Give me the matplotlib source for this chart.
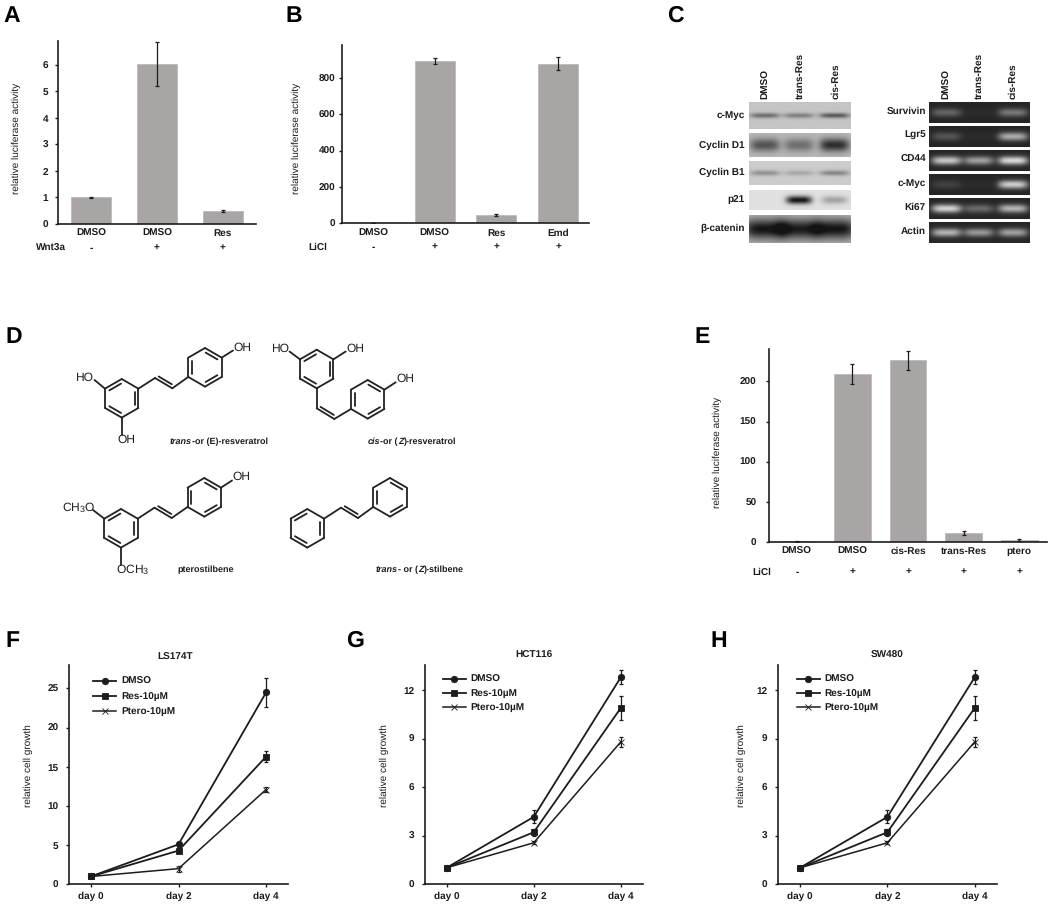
import numpy as np
import matplotlib
matplotlib.use('Agg')
import matplotlib.pyplot as plt
from matplotlib.transforms import blended_transform_factory

plt.rcParams['font.family'] = ['Liberation Sans', 'DejaVu Sans']
plt.rcParams['font.weight'] = 'bold'
plt.rcParams['text.hinting'] = 'no_hinting'
plt.rcParams['text.hinting_factor'] = 1
plt.rcParams['mathtext.default'] = 'regular'
plt.rcParams['mathtext.fontset'] = 'custom'
plt.rcParams['mathtext.rm'] = 'Liberation Sans'

INK = '#1c1c1c'
BAR = '#a9a5a5'
FS = 7.2
CAPTION_FS = 6.3

# panel A
a_labels = ['DMSO', 'DMSO', 'Res']
a_values = [1.0, 6.02, 0.48]
a_errors = [0.03, 0.83, 0.03]
a_signs = ['-', '+', '+']
# panel B
b_labels = ['DMSO', 'DMSO', 'Res', 'Emd']
b_values = [3, 895, 47, 879]
b_errors = [1, 18, 5, 36]
b_signs = ['-', '+', '+', '+']
# panel E
e_labels = ['DMSO', 'DMSO', 'cis-Res', 'trans-Res', 'ptero']
e_values = [1, 209.5, 226.5, 11.6, 2.5]
e_errors = [0.5, 12.3, 12, 2.7, 1.5]
e_signs = ['-', '+', '+', '+', '+']

# panels F, G, H
days = ['day 0', 'day 2', 'day 4']
series_names = ['DMSO', 'Res-10\u00b5M', 'Ptero-10\u00b5M']
f_dmso = [1, 5.1, 24.5]
f_dmso_err = [0.1, 0.3, 1.8]
f_res = [1, 4.3, 16.3]
f_res_err = [0.1, 0.3, 0.7]
f_ptero = [1, 2.0, 12.1]
f_ptero_err = [0.1, 0.4, 0.3]
g_dmso = [1, 4.15, 12.8]
g_dmso_err = [0.05, 0.4, 0.45]
g_res = [1, 3.2, 10.9]
g_res_err = [0.05, 0.2, 0.75]
g_ptero = [1, 2.55, 8.8]
g_ptero_err = [0.05, 0.1, 0.3]

# panel C, band strength per lane
lanes = ['DMSO', 'trans-Res', 'cis-Res']
wb_names = ['c-Myc', 'Cyclin D1', 'Cyclin B1', 'p21', '\u03b2-catenin']
wb_bands = [[0.50, 0.40, 0.62],
            [0.62, 0.45, 0.85],
            [0.32, 0.20, 0.38],
            [0.00, 1.00, 0.30],
            [1.00, 0.95, 1.00]]
gel_names = ['Survivin', 'Lgr5', 'CD44', 'c-Myc', 'Ki67', 'Actin']
gel_bands = [[0.32, 0.03, 0.42],
             [0.24, 0.03, 0.68],
             [0.82, 0.62, 0.92],
             [0.14, 0.03, 0.85],
             [0.88, 0.35, 0.72],
             [0.72, 0.58, 0.62]]

fig = plt.figure(figsize=(10.5, 9.1), dpi=100)
page = fig.add_axes([0, 0, 1, 1])
page.set_xlim(0, 1050)
page.set_ylim(910, 0)
page.axis('off')


def make_axes(left, right, top, bottom):
    ax = fig.add_axes([left / 1050, 1 - bottom / 910, (right - left) / 1050, (bottom - top) / 910])
    ax.patch.set_alpha(0)
    for s in ['top', 'right']:
        ax.spines[s].set_visible(False)
    for s in ['left', 'bottom']:
        ax.spines[s].set_linewidth(1.2)
        ax.spines[s].set_color(INK)
    ax.tick_params(colors=INK, labelsize=FS, width=1, length=2)
    return ax


def bar_panel(box, labels, values, errors, signs, row_name, ymax, yticks, ylab, label_pos, row_y, row_x, ypad, width):
    ax = make_axes(*box)
    x = np.arange(len(values))
    ax.bar(x, values, width=width, color=BAR, edgecolor='#b8b5b5', linewidth=0.5)
    ax.errorbar(x, values, yerr=errors, fmt='none', ecolor=INK, elinewidth=0.9, capsize=1.5, capthick=0.9)
    ax.set_xlim(-0.5, len(values) - 0.5)
    ax.set_ylim(0, ymax)
    ax.set_yticks(yticks)
    ax.tick_params(axis='y', pad=ypad)
    ax.set_xticks(x, labels)
    ax.tick_params(axis='x', length=0, pad=3.5)
    ax.set_ylabel(ylab, fontsize=FS, color=INK, va='center')
    ax.yaxis.set_label_coords(label_pos[0], label_pos[1], transform=page.transData)
    row = blended_transform_factory(ax.transData, page.transData)
    for xi, sign in zip(x, signs):
        ax.text(xi, row_y, sign, transform=row, ha='center', va='center', fontsize=FS, color=INK)
    page.text(row_x, row_y, row_name, ha='center', va='center', fontsize=FS, color=INK)
    return ax


def line_panel(box, title, title_x, title_pad, dmso, res, ptero, ymax, yticks, label_pos, legend_xy, spacing):
    ax = make_axes(*box)
    x = np.arange(3)
    styles = [('o', 4.6, 1.3), ('s', 4.6, 1.3), ('x', 4.2, 1.1)]
    for (vals, errs), name, (mk, ms, lw) in zip([dmso, res, ptero], series_names, styles):
        ax.errorbar(x, vals, yerr=errs, fmt='none', ecolor=INK, elinewidth=0.9, capsize=1.5, capthick=0.9)
        ax.plot(x, vals, color=INK, lw=lw, marker=mk, ms=ms, mew=0.6, label=name)
    ax.set_xlim(-0.25, 2.25)
    ax.set_ylim(0, ymax)
    ax.set_yticks(yticks)
    ax.tick_params(axis='y', pad=5.5)
    ax.set_xticks(x, days)
    ax.tick_params(axis='x', pad=3.5)
    ax.set_ylabel('relative cell growth', fontsize=FS, color=INK, va='center')
    ax.yaxis.set_label_coords(label_pos[0], label_pos[1], transform=page.transData)
    ax.set_title(title, fontsize=FS, fontweight='bold', color=INK, pad=title_pad, x=title_x)
    ax.legend(loc='upper left', bbox_to_anchor=legend_xy, bbox_transform=page.transData, frameon=False,
              fontsize=FS, handlelength=2.3, handletextpad=0.5, labelspacing=spacing, borderpad=0, borderaxespad=0,
              labelcolor=INK)
    return ax


def draw_blot(x0, x1, y0, y1, strengths, centers, bg, ink, half_w, half_h):
    xs = np.linspace(x0, x1, 120)
    ys = np.linspace(y0, y1, 40)
    xx, yy = np.meshgrid(xs, ys)
    amount = np.zeros_like(xx)
    for st, c in zip(strengths, centers):
        amount += st * np.exp(-((xx - c) / half_w) ** 4) * np.exp(-((yy - (y0 + y1) / 2) / half_h) ** 2)
    img = bg + (ink - bg) * np.clip(amount, 0, 1)
    page.imshow(img, extent=[x0, x1, y1, y0], cmap='gray', vmin=0, vmax=1, aspect='auto', interpolation='bilinear')


wb_rows = [(102.3, 129.3), (134, 157.3), (161.3, 185.3), (190.7, 210), (215.3, 242.7)]
wb_half_w = [15, 15, 15, 13, 21]
wb_half_h = [2.6, 6.5, 2.8, 4, 10]
wb_bg = [0.77, 0.72, 0.80, 0.88, 0.72]
wb_lanes = [765, 799.3, 835]
gel_rows = [(102.3, 122.7), (126.3, 146.7), (150.3, 170.7), (174.3, 194.7), (198.3, 218.7), (222.3, 242.7)]
gel_lanes = [946, 978.3, 1012.7]

for name, st, (y0, y1), hw, hh, bg in zip(wb_names, wb_bands, wb_rows, wb_half_w, wb_half_h, wb_bg):
    draw_blot(749.3, 851.3, y0, y1, st, wb_lanes, bg, 0.08, hw, hh)
    page.text(745, (y0 + y1) / 2 - 0.5, name, ha='right', va='center', fontsize=FS, color=INK)
for name, st, (y0, y1) in zip(gel_names, gel_bands, gel_rows):
    draw_blot(928.7, 1029.3, y0, y1, st, gel_lanes, 0.15, 0.92, 15, 4.2)
    page.text(925.7, (y0 + y1) / 2 - 1, name, ha='right', va='center', fontsize=FS, color=INK)
for lane, xw, xg in zip(lanes, wb_lanes, gel_lanes):
    page.text(xw + 0.5, 99, lane, rotation=90, ha='center', va='bottom', fontsize=FS, color=INK)
    page.text(xg + 0.5, 99, lane, rotation=90, ha='center', va='bottom', fontsize=FS, color=INK)
page.set_xlim(0, 1050)
page.set_ylim(910, 0)


# panel D, skeletal formulas in page pixels
def bond(p, q, lw=1.3):
    page.plot([p[0], q[0]], [p[1], q[1]], color='#222222', lw=lw, solid_capstyle='round')


def ring(cx, cy, odd, size=19.3):
    pts = [(cx + size * np.cos(np.radians(-90 + 60 * k)), cy + size * np.sin(np.radians(-90 + 60 * k))) for k in range(6)]
    for k in range(6):
        bond(pts[k], pts[(k + 1) % 6])
    for k in range(1 if odd else 0, 6, 2):
        p, q = pts[k], pts[(k + 1) % 6]
        a = (cx + 0.78 * (p[0] - cx) * 0.95 + 0.78 * (q[0] - cx) * 0.05, cy + 0.78 * (p[1] - cy) * 0.95 + 0.78 * (q[1] - cy) * 0.05)
        b = (cx + 0.78 * (q[0] - cx) * 0.95 + 0.78 * (p[0] - cx) * 0.05, cy + 0.78 * (q[1] - cy) * 0.95 + 0.78 * (p[1] - cy) * 0.05)
        bond(a, b)
    return pts


def vinyl(a, b, c, d, side=1):
    bond(a, b)
    bond(b, c)
    bond(c, d)
    dx, dy = c[0] - b[0], c[1] - b[1]
    n = np.hypot(dx, dy)
    ox, oy = -dy / n * 3.2 * side, dx / n * 3.2 * side
    bond((b[0] + ox + dx * 0.12, b[1] + oy + dy * 0.12), (c[0] + ox - dx * 0.12, c[1] + oy - dy * 0.12))


def atom(x, y, s):
    page.text(x, y, s, ha='center', va='center', fontsize=8.8, fontweight='normal', color='#222222')


def caption(x, y, parts):
    # parts are (text, italic), written one after the other from x
    rend = fig.canvas.get_renderer()
    for s, italic in parts:
        style = 'italic' if italic else 'normal'
        page.text(x, y, s, ha='left', va='baseline', fontsize=CAPTION_FS, color=INK, style=style)
        # trailing spaces count in the advance only when measured with a closing dot
        probe = page.text(x, y, s + '.', fontsize=CAPTION_FS, style=style)
        dot = page.text(x, y, '.', fontsize=CAPTION_FS, style=style)
        x += probe.get_window_extent(rend).width - dot.get_window_extent(rend).width
        probe.remove()
        dot.remove()


# trans-resveratrol
r1 = ring(121.7, 398.3, True)
r2 = ring(205, 367.3, False)
vinyl(r1[1], (155, 378), (172.3, 388.3), r2[4], side=-1)
bond(r1[5], (94.5, 380))
atom(84.5, 378, 'HO')
bond(r1[3], (121.7, 435))
atom(126, 440, 'OH')
bond(r2[1], (233, 350.5))
atom(242.5, 347.5, 'OH')
caption(170, 444, [('trans', True), ('-or (E)-resveratrol', False)])

# cis-resveratrol
r3 = ring(316.7, 369, True)
r4 = ring(367.7, 399.3, False)
vinyl(r3[3], (316.7, 408.3), (334.3, 419), r4[4], side=-1)
bond(r3[5], (289.5, 351.5))
atom(280, 348.7, 'HO')
bond(r3[1], (345.7, 351.5))
atom(355, 348.7, 'OH')
bond(r4[1], (395.7, 382.3))
atom(405, 379, 'OH')
caption(368, 444, [('cis', True), ('-or (', False), ('Z', True), (')-resveratrol', False)])

# pterostilbene
r5 = ring(121, 528.3, True)
r6 = ring(204.3, 497.3, False)
vinyl(r5[1], (154.5, 507.7), (171.7, 518), r6[4], side=-1)
bond(r5[5], (93, 510))
atom(78.5, 508, 'CH$_3$O')
bond(r5[3], (121, 565))
atom(132.5, 570, 'OCH$_3$')
bond(r6[1], (232, 480.5))
atom(241.5, 477, 'OH')
caption(177, 572, [('pterostilbene', False)])

# stilbene
r7 = ring(307.3, 528.3, True)
r8 = ring(390, 497.3, False)
vinyl(r7[1], (341, 507.7), (358, 518), r8[4], side=-1)
caption(376, 572, [('trans', True), ('- or (', False), ('Z', True), (')-stilbene', False)])
page.set_xlim(0, 1050)
page.set_ylim(910, 0)

bar_panel((58, 256, 41, 224), a_labels, a_values, a_errors, a_signs, 'Wnt3a', 6.9, range(0, 7),
          'relative luciferase activity', (16, 138), 248, 50.7, 5, 0.6)
bar_panel((342, 589, 45, 223.3), b_labels, b_values, b_errors, b_signs, 'LiCl', 982, range(0, 801, 200),
          'relative luciferase activity', (296.7, 138), 247, 317.7, 3, 0.65)
bar_panel((769, 1047, 349.3, 542), e_labels, e_values, e_errors, e_signs, 'LiCl', 240, range(0, 201, 50),
          'relative luciferase activity', (717.7, 452.7), 572, 762, 7, 0.66)

line_panel((69, 288, 665, 884.3), 'LS174T', 0.485, 3.6, (f_dmso, f_dmso_err), (f_res, f_res_err), (f_ptero, f_ptero_err),
           28, range(0, 26, 5), (28.7, 765.7), (93, 677), 0.6)
line_panel((424.7, 642.7, 665, 884), 'HCT116', 0.5, 5, (g_dmso, g_dmso_err), (g_res, g_res_err), (g_ptero, g_ptero_err),
           13.55, range(0, 13, 3), (384.3, 766), (442.7, 675), 0.5)
line_panel((778, 996.7, 665, 884), 'SW480', 0.5, 5, (g_dmso, g_dmso_err), (g_res, g_res_err), (g_ptero, g_ptero_err),
           13.55, range(0, 13, 3), (741, 766), (796.7, 675), 0.5)

panel_letters = ['A', 'B', 'C', 'D', 'E', 'F', 'G', 'H']
letter_x = [3, 285, 667, 5, 694, 5, 346, 710]
letter_y = [22, 22, 22, 343, 343, 647, 647, 647]
for s, lx, ly in zip(panel_letters, letter_x, letter_y):
    page.text(lx, ly, s, ha='left', va='baseline', fontsize=16.5, color='black')

fig.savefig('out.png', dpi=100)
